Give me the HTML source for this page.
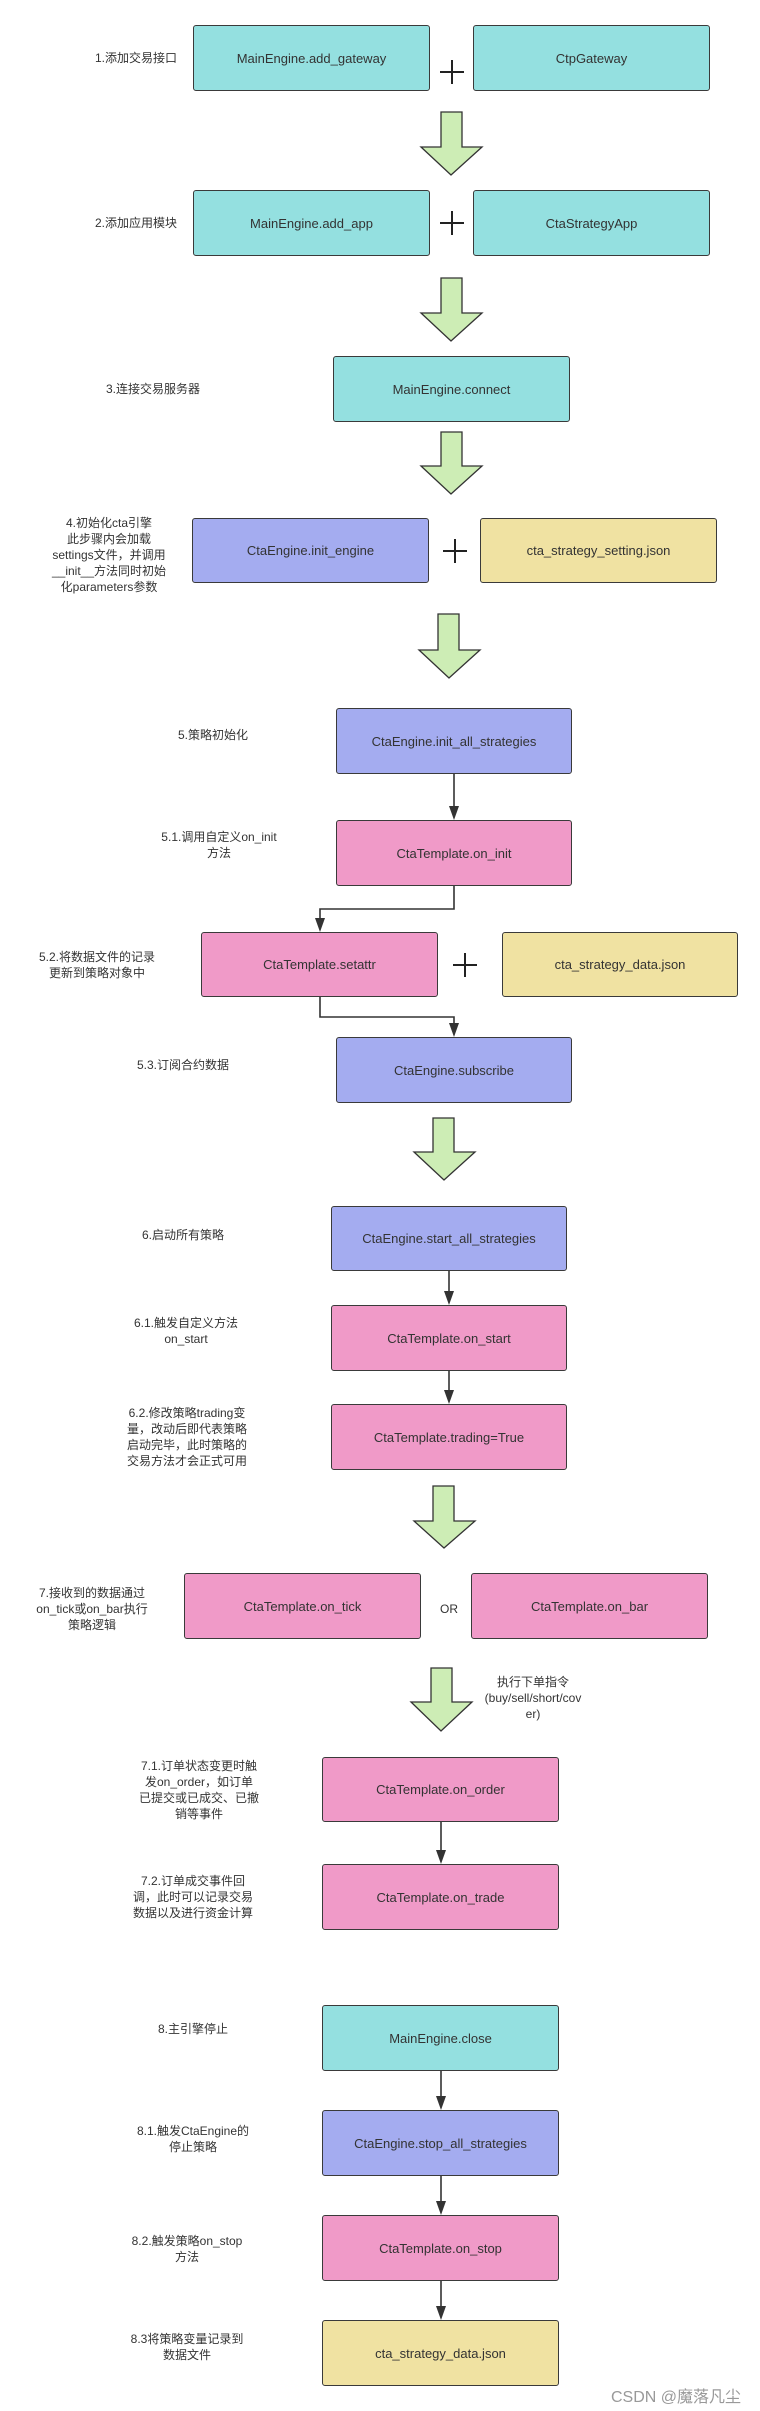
<!DOCTYPE html>
<html><head><meta charset="utf-8"><style>
body{margin:0;background:#fff;}
#c{position:relative;width:760px;height:2411px;overflow:hidden;font-family:"Liberation Sans","Noto Sans CJK SC",sans-serif;color:#333;}
.b{position:absolute;box-sizing:border-box;border:1.5px solid #3a3a3a;border-radius:3px;display:flex;align-items:center;justify-content:center;font-size:13px;color:#333;}
.cy{background:#94e0e0}.pu{background:#a4acf0}.pk{background:#f09ac8}.ye{background:#f0e2a2}
.l{position:absolute;font-size:12px;line-height:16px;text-align:center;color:#333;transform:translateX(-50%);white-space:nowrap;}
svg{position:absolute;left:0;top:0;}
</style></head><body><div id="c">
<svg width="760" height="2411">
<g fill="#cdedb5" stroke="#333" stroke-width="1.3">
<polygon points="441,112 462,112 462,147 482,147 451,175 421,147 441,147"/>
<polygon points="441,278 462,278 462,313 482,313 451,341 421,313 441,313"/>
<polygon points="441,432 462,432 462,466 482,466 451,494 421,466 441,466"/>
<polygon points="438,614 459,614 459,650 480,650 449,678 419,650 438,650"/>
<polygon points="433,1118 454,1118 454,1152 475,1152 444,1180 414,1152 433,1152"/>
<polygon points="433,1486 454,1486 454,1521 475,1521 444,1548 414,1521 433,1521"/>
<polygon points="431,1668 452,1668 452,1702 472,1702 441,1731 411,1702 431,1702"/>
</g>
<g stroke="#222" stroke-width="2">
<line x1="440" y1="72" x2="464" y2="72"/><line x1="452" y1="60" x2="452" y2="84"/>
<line x1="440" y1="223" x2="464" y2="223"/><line x1="452" y1="211" x2="452" y2="235"/>
<line x1="443" y1="551" x2="467" y2="551"/><line x1="455" y1="539" x2="455" y2="563"/>
<line x1="453" y1="965" x2="477" y2="965"/><line x1="465" y1="953" x2="465" y2="977"/>
</g>
<g stroke="#333" stroke-width="1.6" fill="none">
<line x1="454" y1="774" x2="454" y2="812"/>
<polyline points="454,886 454,909 320,909 320,924"/>
<polyline points="320,997 320,1017 454,1017 454,1029"/>
<line x1="449" y1="1271" x2="449" y2="1297"/>
<line x1="449" y1="1371" x2="449" y2="1396"/>
<line x1="441" y1="1822" x2="441" y2="1856"/>
<line x1="441" y1="2071" x2="441" y2="2102"/>
<line x1="441" y1="2176" x2="441" y2="2207"/>
<line x1="441" y1="2281" x2="441" y2="2312"/>
</g>
<g fill="#333">
<polygon points="454,820 449,806 459,806"/>
<polygon points="320,932 315,918 325,918"/>
<polygon points="454,1037 449,1023 459,1023"/>
<polygon points="449,1305 444,1291 454,1291"/>
<polygon points="449,1404 444,1390 454,1390"/>
<polygon points="441,1864 436,1850 446,1850"/>
<polygon points="441,2110 436,2096 446,2096"/>
<polygon points="441,2215 436,2201 446,2201"/>
<polygon points="441,2320 436,2306 446,2306"/>
</g>
</svg>
<div class="b cy" style="left:193px;top:25px;width:237px;height:66px">MainEngine.add_gateway</div>
<div class="b cy" style="left:473px;top:25px;width:237px;height:66px">CtpGateway</div>
<div class="b cy" style="left:193px;top:190px;width:237px;height:66px">MainEngine.add_app</div>
<div class="b cy" style="left:473px;top:190px;width:237px;height:66px">CtaStrategyApp</div>
<div class="b cy" style="left:333px;top:356px;width:237px;height:66px">MainEngine.connect</div>
<div class="b pu" style="left:192px;top:518px;width:237px;height:65px">CtaEngine.init_engine</div>
<div class="b ye" style="left:480px;top:518px;width:237px;height:65px">cta_strategy_setting.json</div>
<div class="b pu" style="left:336px;top:708px;width:236px;height:66px">CtaEngine.init_all_strategies</div>
<div class="b pk" style="left:336px;top:820px;width:236px;height:66px">CtaTemplate.on_init</div>
<div class="b pk" style="left:201px;top:932px;width:237px;height:65px">CtaTemplate.setattr</div>
<div class="b ye" style="left:502px;top:932px;width:236px;height:65px">cta_strategy_data.json</div>
<div class="b pu" style="left:336px;top:1037px;width:236px;height:66px">CtaEngine.subscribe</div>
<div class="b pu" style="left:331px;top:1206px;width:236px;height:65px">CtaEngine.start_all_strategies</div>
<div class="b pk" style="left:331px;top:1305px;width:236px;height:66px">CtaTemplate.on_start</div>
<div class="b pk" style="left:331px;top:1404px;width:236px;height:66px">CtaTemplate.trading=True</div>
<div class="b pk" style="left:184px;top:1573px;width:237px;height:66px">CtaTemplate.on_tick</div>
<div class="b pk" style="left:471px;top:1573px;width:237px;height:66px">CtaTemplate.on_bar</div>
<div class="b pk" style="left:322px;top:1757px;width:237px;height:65px">CtaTemplate.on_order</div>
<div class="b pk" style="left:322px;top:1864px;width:237px;height:66px">CtaTemplate.on_trade</div>
<div class="b cy" style="left:322px;top:2005px;width:237px;height:66px">MainEngine.close</div>
<div class="b pu" style="left:322px;top:2110px;width:237px;height:66px">CtaEngine.stop_all_strategies</div>
<div class="b pk" style="left:322px;top:2215px;width:237px;height:66px">CtaTemplate.on_stop</div>
<div class="b ye" style="left:322px;top:2320px;width:237px;height:66px">cta_strategy_data.json</div>

<div class="l" style="left:136px;top:50px">1.添加交易接口</div>
<div class="l" style="left:136px;top:215px">2.添加应用模块</div>
<div class="l" style="left:153px;top:381px">3.连接交易服务器</div>
<div class="l" style="left:109px;top:515px">4.初始化cta引擎<br>此步骤内会加载<br>settings文件，并调用<br>__init__方法同时初始<br>化parameters参数</div>
<div class="l" style="left:213px;top:727px">5.策略初始化</div>
<div class="l" style="left:219px;top:829px">5.1.调用自定义on_init<br>方法</div>
<div class="l" style="left:97px;top:949px">5.2.将数据文件的记录<br>更新到策略对象中</div>
<div class="l" style="left:183px;top:1057px">5.3.订阅合约数据</div>
<div class="l" style="left:183px;top:1227px">6.启动所有策略</div>
<div class="l" style="left:186px;top:1315px">6.1.触发自定义方法<br>on_start</div>
<div class="l" style="left:187px;top:1405px">6.2.修改策略trading变<br>量，改动后即代表策略<br>启动完毕，此时策略的<br>交易方法才会正式可用</div>
<div class="l" style="left:92px;top:1585px">7.接收到的数据通过<br>on_tick或on_bar执行<br>策略逻辑</div>
<div class="l" style="left:449px;top:1601px">OR</div>
<div class="l" style="left:533px;top:1674px">执行下单指令<br>(buy/sell/short/cov<br>er)</div>
<div class="l" style="left:199px;top:1758px">7.1.订单状态变更时触<br>发on_order，如订单<br>已提交或已成交、已撤<br>销等事件</div>
<div class="l" style="left:193px;top:1873px">7.2.订单成交事件回<br>调，此时可以记录交易<br>数据以及进行资金计算</div>
<div class="l" style="left:193px;top:2021px">8.主引擎停止</div>
<div class="l" style="left:193px;top:2123px">8.1.触发CtaEngine的<br>停止策略</div>
<div class="l" style="left:187px;top:2233px">8.2.触发策略on_stop<br>方法</div>
<div class="l" style="left:187px;top:2331px">8.3将策略变量记录到<br>数据文件</div>
<div style="position:absolute;left:611px;top:2383px;font-size:16px;color:#999;white-space:nowrap">CSDN @魔落凡尘</div>
</div></body></html>
